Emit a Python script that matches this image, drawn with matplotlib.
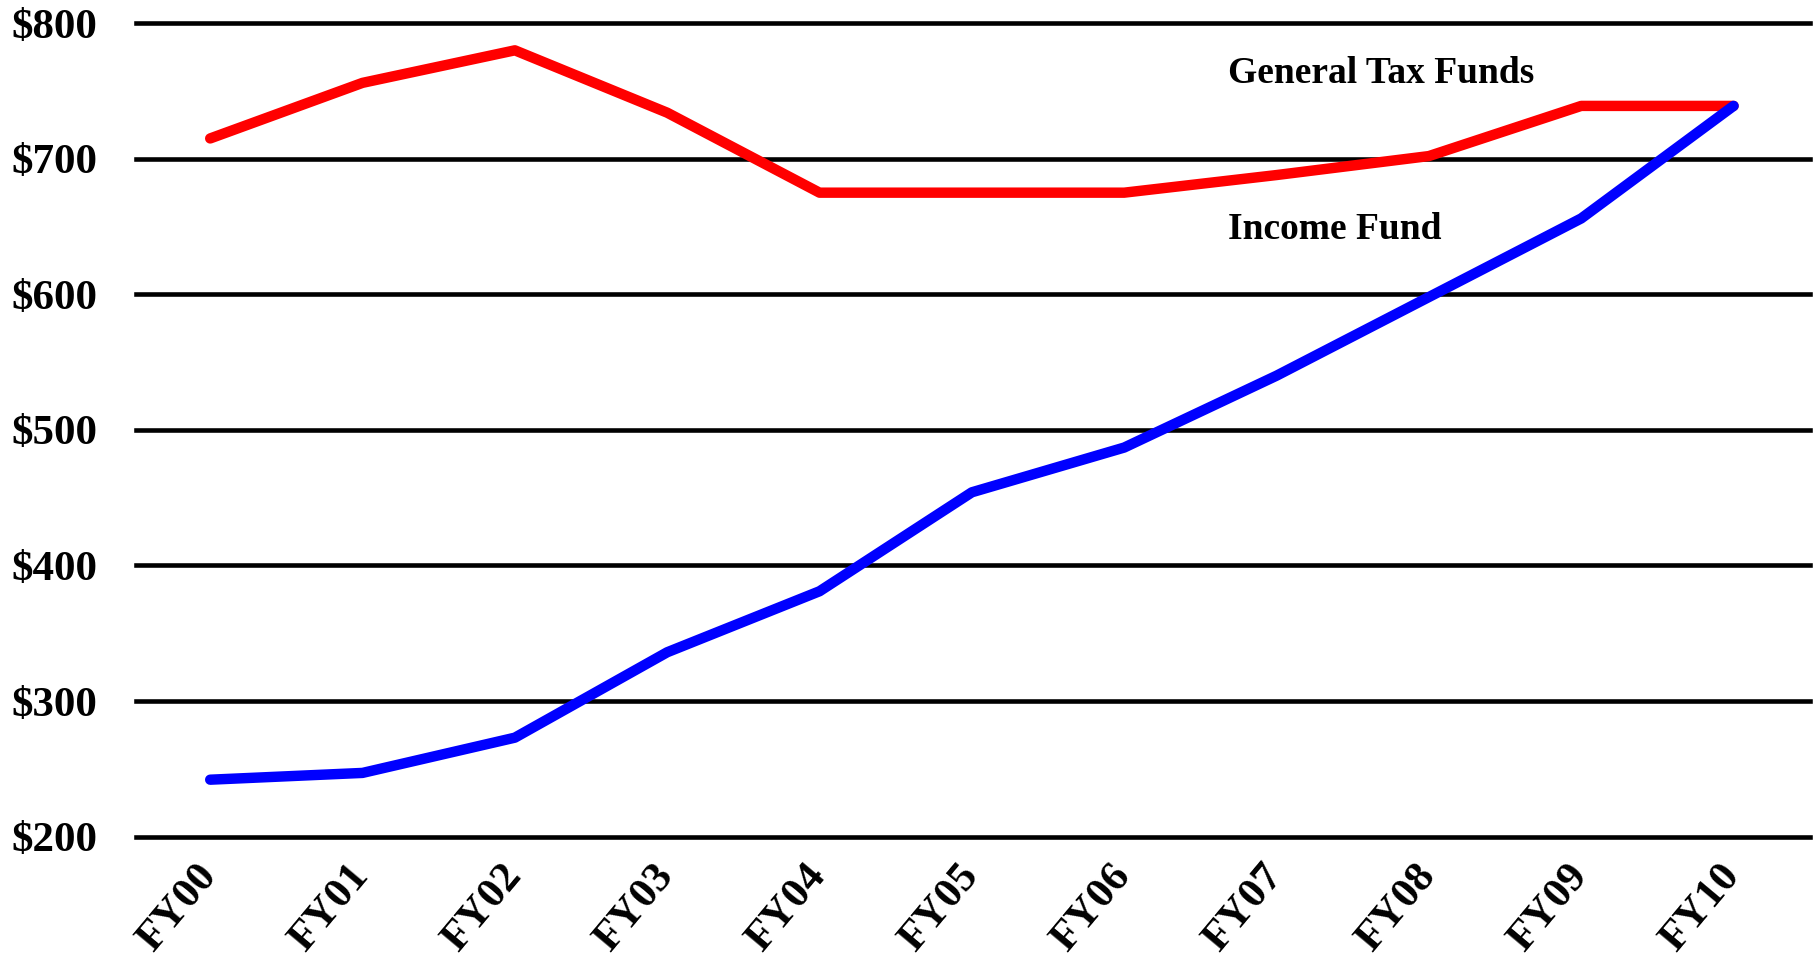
import matplotlib
matplotlib.use('Agg')
import matplotlib.pyplot as plt

# fiscal years and the two funds (millions of dollars)
years = ['FY00', 'FY01', 'FY02', 'FY03', 'FY04', 'FY05',
         'FY06', 'FY07', 'FY08', 'FY09', 'FY10']
general_tax = [715, 756, 780, 734, 675, 675, 675, 688, 702, 739, 739]
income_fund = [242, 247, 273, 336, 381, 454, 487, 540, 598, 656, 739]
y_ticks = [200, 300, 400, 500, 600, 700, 800]

plt.rcParams['font.family'] = ['Liberation Serif', 'DejaVu Serif']
plt.rcParams['font.weight'] = 'bold'

fig = plt.figure(figsize=(18.17, 9.59), dpi=100)
ax = fig.add_axes([0.0746, 0.1276, 0.9214, 0.8482])

x = list(range(len(years)))
ax.plot(x, general_tax, color='#ff0000', lw=7.5, solid_capstyle='round',
        solid_joinstyle='round', zorder=3)
ax.plot(x, income_fund, color='#0000ff', lw=7.5, solid_capstyle='round',
        solid_joinstyle='round', zorder=4)

ax.set_xlim(-0.49, 10.5)
ax.set_ylim(200, 800)

ax.set_yticks(y_ticks)
ax.set_yticklabels(['$%d' % v for v in y_ticks], fontsize=31,
                   fontweight='bold', ha='left')
ax.tick_params(axis='y', length=0, pad=89)
ax.yaxis.grid(True, color='black', lw=3.3)
for gl in ax.get_ygridlines():
    gl.set_clip_on(False)

ax.set_xticks(x)
ax.set_xticklabels(years, fontsize=31, fontweight='bold', rotation=50,
                   ha='right', va='center', rotation_mode='anchor')
ax.tick_params(axis='x', length=0, pad=24)
for lbl in ax.get_xticklabels():
    lbl.set_x(lbl.get_position()[0] + 0.06)

for s in ax.spines.values():
    s.set_visible(False)

ax.text(6.68, 763, 'General Tax Funds', fontsize=27, fontweight='bold',
        va='center', ha='left')
ax.text(6.68, 648, 'Income Fund', fontsize=27, fontweight='bold',
        va='center', ha='left')

fig.savefig('out.png', dpi=100)
